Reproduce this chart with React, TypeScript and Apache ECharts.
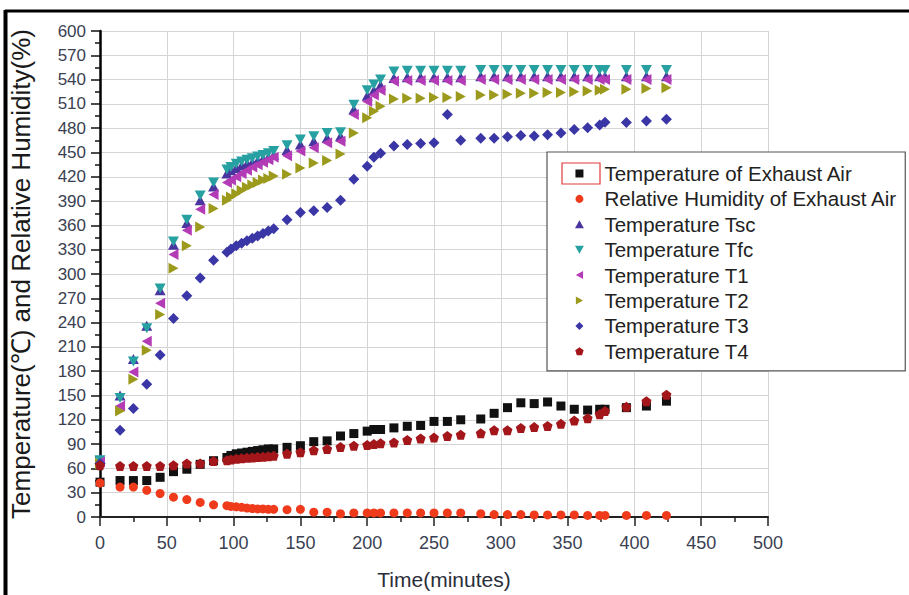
import React, { useEffect, useRef } from "react";
import * as echarts from "echarts";

const times = [0, 15, 25, 35, 45, 55, 65, 75, 85, 95, 98, 102, 106, 110, 114, 118, 122, 126, 130, 140, 150, 160, 170, 180, 190, 200, 205, 210, 220, 230, 240, 250, 260, 270, 285, 295, 305, 315, 325, 335, 345, 355, 365, 374, 378, 394, 409, 424];

const exhaustAir = [43, 45, 45, 45, 49, 56, 59, 65, 69.5, 73.5, 76, 78, 79, 80, 81, 82, 83, 84, 84, 86, 88, 93, 94, 100, 103, 106, 108, 108, 110, 112, 113, 118, 118, 120, 121, 128, 135, 141, 140, 142, 137, 133, 132, 133, 133, 135, 137, 143];
const humidity = [42, 37, 37, 33, 29, 24.5, 21.5, 18, 15, 14, 13, 12.5, 12, 11, 10.5, 10, 10, 9.5, 9.5, 9, 9.5, 6, 6, 4, 5, 5, 5, 5, 5, 5, 5, 5, 5, 5, 4, 3, 3, 3, 2.5, 2.5, 2.5, 2.5, 2, 2, 2, 2, 2, 2];
const tsc = [72, 150, 195, 236, 280, 336, 363, 391, 408, 424, 428, 431, 434, 436, 438, 440, 442, 444, 447, 453, 460, 464, 468, 470, 503, 520, 527, 533, 542, 543, 543, 543, 543, 543, 544, 544, 544, 544, 544, 544, 544, 544, 544, 544, 544, 544, 544, 544];
const tfc = [70, 147, 192, 233, 282, 340, 367, 397, 413, 429, 432, 436, 439, 441, 443, 445, 447, 449, 452, 459, 466, 470, 474, 475, 509, 527, 534, 540, 550, 551, 551, 551, 551, 551, 552, 552, 552, 552, 552, 552, 552, 552, 552, 552, 552, 552, 552, 552];
const t1 = [68, 137, 179, 217, 264, 324, 354, 380, 398, 413, 416, 420, 424, 428, 432, 435, 438, 441, 444, 446, 452, 456, 462, 464, 497, 513, 521, 527, 538, 539, 539, 539, 539, 539, 540, 540, 540, 540, 540, 540, 540, 540, 540, 540, 540, 540, 540, 540];
const t2 = [66, 131, 170, 206, 250, 307, 335, 358, 381, 391, 395, 399, 403, 407, 410, 413, 416, 418, 421, 423, 431, 437, 440, 448, 474, 493, 501, 507, 516, 517, 517, 518, 518, 519, 521, 521, 522, 523, 523, 524, 524, 525, 526, 527, 528, 528, 529, 530];
const t3 = [66, 107, 134, 164, 200, 245, 273, 295, 317, 327, 331, 335, 338, 341, 344, 347, 350, 353, 356, 367, 376, 378, 382, 391, 417, 433, 444, 449, 458, 460, 461, 462, 497, 465, 467.5, 467.5, 469.5, 471, 470.5, 472, 474, 478.5, 480.5, 484, 487.5, 487, 489, 491];
const t4 = [64, 63, 63, 63, 63, 64, 66, 66, 69, 70, 71, 72, 72.5, 73, 73.5, 74, 74.5, 75, 75.5, 78, 80, 82.5, 84, 86.5, 88, 89, 90, 91, 92, 95, 97, 98, 100, 101.5, 103.5, 107, 107, 110, 111, 112.5, 115, 119, 122, 127, 131, 136, 143, 151];

const seriesNames = [
  "Temperature of Exhaust Air",
  "Relative Humidity of Exhaust Air",
  "Temperature Tsc",
  "Temperature Tfc",
  "Temperature T1",
  "Temperature T2",
  "Temperature T3",
  "Temperature T4",
];
const seriesValues = [exhaustAir, humidity, tsc, tfc, t1, t2, t3, t4];
const seriesColors = ["#111111", "#ef3b1c", "#4a35a0", "#27a0a2", "#b33cb6", "#9c9a1c", "#3a36a6", "#a3171b"];
const seriesSymbols = [
  "path://M0,0H10V10H0Z",
  "circle",
  "path://M5,0L10,9L0,9Z",
  "path://M0,0L10,0L5,9Z",
  "path://M0,5L9,0L9,10Z",
  "path://M0,0L9,5L0,10Z",
  "path://M5,0L10,5L5,10L0,5Z",
  "path://M5,0L10,3.6L8.1,9.5L1.9,9.5L0,3.6Z",
];
const seriesSizes: any[] = [[9, 9], 9, [11, 10], [11, 10], [10, 11], [10, 11], [11, 11], [10, 10]];

const xTicks = { min: 0, max: 500, interval: 50 };
const yTicks = { min: 0, max: 600, interval: 30 };

const FONT = "'Liberation Sans', Arial, sans-serif";

export default function App() {
  const ref = useRef<HTMLDivElement>(null);
  useEffect(() => {
    if (!ref.current) return;
    const chart = echarts.init(ref.current, null, { renderer: "svg" });
    const series = seriesNames.map((name, i) => ({
      name,
      type: "scatter",
      data: times.map((t, j) => [t, seriesValues[i][j]]),
      symbol: seriesSymbols[i],
      symbolSize: seriesSizes[i],
      itemStyle: { color: seriesColors[i], opacity: 1 },
      z: 2 + i,
    }));
    chart.setOption({
      animation: false,
      backgroundColor: "#ffffff",
      grid: { left: 99, right: 141, top: 31, bottom: 75, show: false },
      xAxis: {
        type: "value",
        min: xTicks.min,
        max: xTicks.max,
        interval: xTicks.interval,
        name: "Time(minutes)",
        nameLocation: "middle",
        nameGap: 52,
        nameTextStyle: { fontSize: 21, color: "#2a2e3a", fontFamily: FONT, padding: [0, 0, 0, 20] },
        axisLine: { show: true, lineStyle: { color: "#222", width: 2 } },
        axisTick: { show: true, length: 9, lineStyle: { color: "#222", width: 1.5 } },
        minorTick: { show: true, splitNumber: 2, length: 5, lineStyle: { color: "#222", width: 1.5 } },
        axisLabel: { fontSize: 18, color: "#3a3f52", margin: 17, fontFamily: FONT },
        splitLine: { show: true, lineStyle: { color: "#d4d4d4", width: 1 } },
      },
      yAxis: {
        type: "value",
        min: yTicks.min,
        max: yTicks.max,
        interval: yTicks.interval,
        name: "Temperature(℃) and Relative Humidity(%)",
        nameLocation: "middle",
        nameGap: 66,
        nameTextStyle: { fontSize: 26, color: "#1a1a1a", fontFamily: FONT },
        axisLine: { show: true, lineStyle: { color: "#000", width: 2.5 } },
        axisTick: { show: true, length: 9, lineStyle: { color: "#111", width: 1.5 } },
        minorTick: { show: true, splitNumber: 2, length: 5, lineStyle: { color: "#111", width: 1.5 } },
        axisLabel: { fontSize: 17, color: "#3a3f52", margin: 14, fontFamily: FONT },
        splitLine: { show: true, lineStyle: { color: "#d4d4d4", width: 1 } },
      },
      legend: {
        orient: "vertical",
        left: 547,
        top: 152,
        padding: [11, 8, 9, 28],
        itemWidth: 40,
        itemHeight: 8,
        itemGap: 4.4,
        backgroundColor: "#ffffff",
        borderColor: "#555",
        borderWidth: 1.2,
        textStyle: { fontSize: 20.5, lineHeight: 20, color: "#222", fontFamily: FONT },
        data: seriesNames,
      },
      graphic: [
        {
          type: "rect",
          z: 100,
          shape: { x: 562, y: 163, width: 38, height: 21 },
          style: { fill: "none", stroke: "#e23a3a", lineWidth: 1.2 },
        },
        {
          type: "line",
          z: 100,
          shape: { x1: 5, y1: 11, x2: 909, y2: 11 },
          style: { stroke: "#000", lineWidth: 3 },
        },
        {
          type: "line",
          z: 100,
          shape: { x1: 5.5, y1: 10, x2: 5.5, y2: 595 },
          style: { stroke: "#000", lineWidth: 4 },
        },
      ],
      series,
    });
    return () => chart.dispose();
  }, []);
  return <div ref={ref} style={{ position: "fixed", left: 0, top: 0, width: 909, height: 595 }} />;
}
